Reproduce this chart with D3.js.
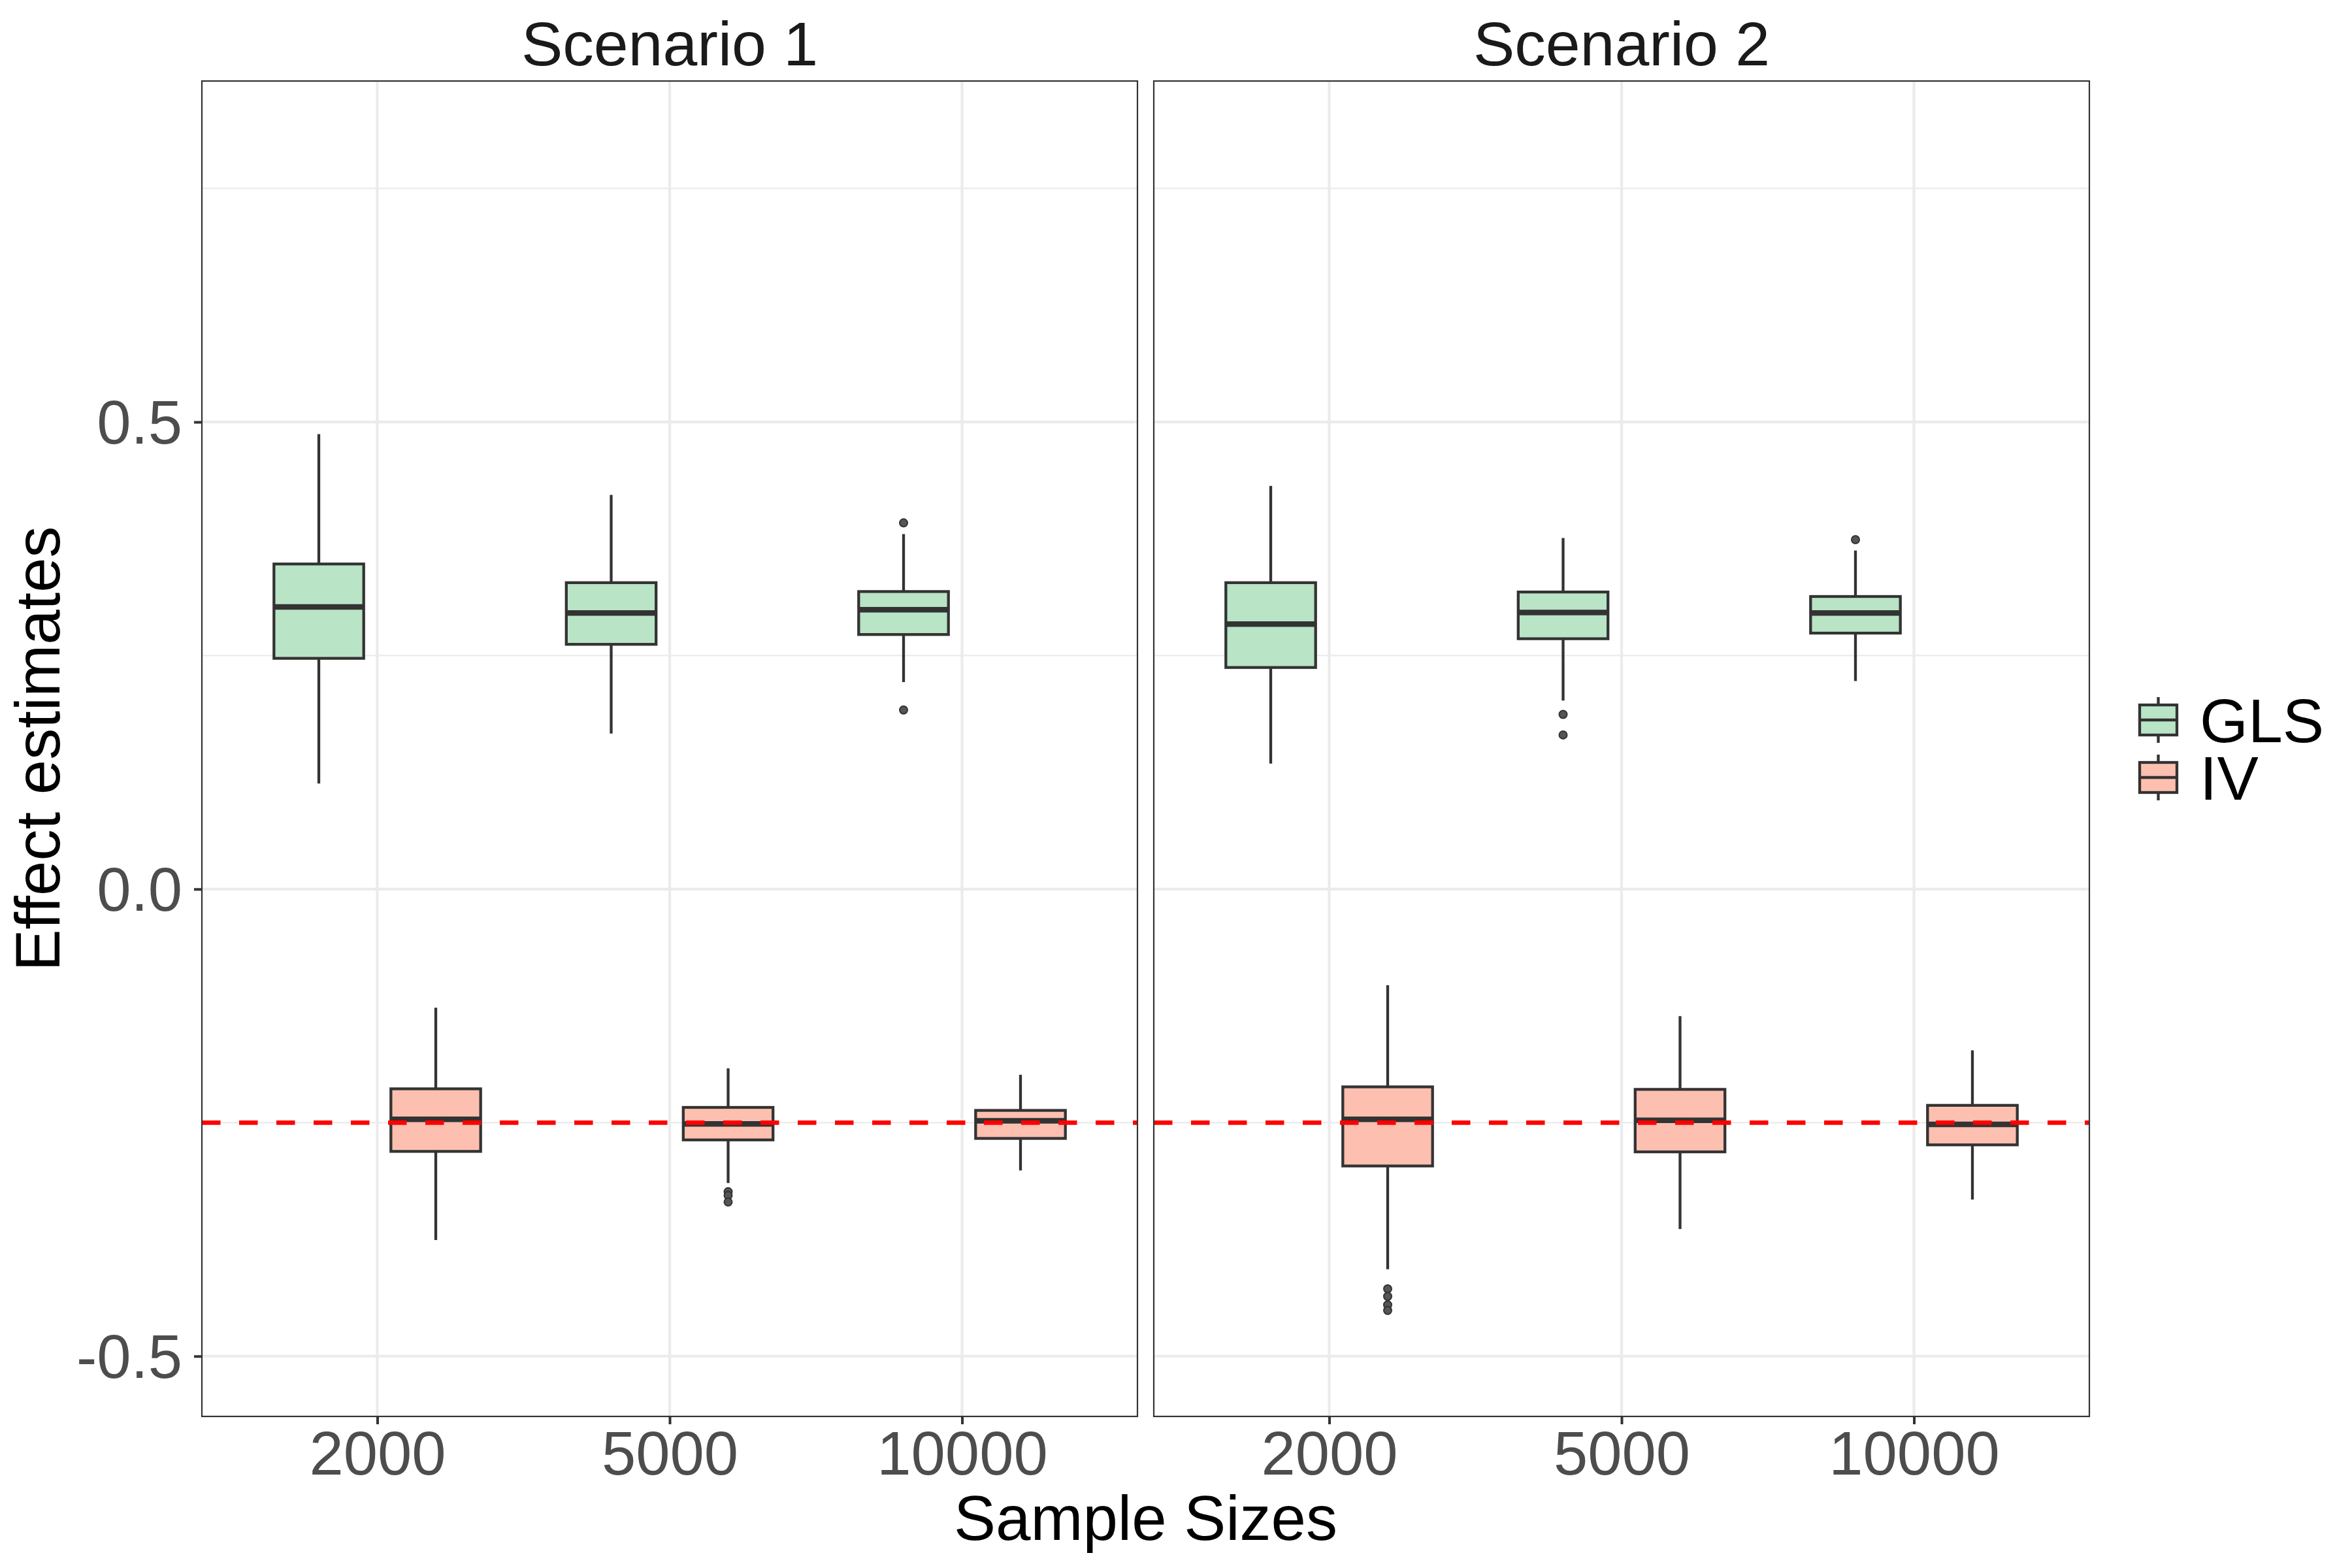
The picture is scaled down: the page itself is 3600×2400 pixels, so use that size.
<!DOCTYPE html>
<html>
<head>
<meta charset="utf-8">
<script src="https://cdn.jsdelivr.net/npm/d3@7"></script>
<style>
  html, body { margin: 0; padding: 0; background: #ffffff; }
  svg { display: block; }
</style>
</head>
<body>
<script>
// ---------------- DATA ----------------
const sampleSizes = ["2000", "5000", "10000"];
const scenarios = ["Scenario 1", "Scenario 2"];
const methods = ["GLS", "IV"];
const yTicks = [-0.5, 0.0, 0.5];
const yMinorTicks = [-0.25, 0.25, 0.75];
const trueEffect = -0.25;

// boxplot stats per sample size: [lower whisker, Q1, median, Q3, upper whisker]
const s1GLS = [
  [0.113, 0.247, 0.302, 0.348, 0.487],
  [0.1665, 0.262, 0.2955, 0.328, 0.422],
  [0.2216, 0.2725, 0.299, 0.3185, 0.380]
];
const s1GLSOut = [[], [], [0.392, 0.1917]];

const s1IV = [
  [-0.3757, -0.2808, -0.2465, -0.2138, -0.127],
  [-0.3146, -0.2685, -0.2513, -0.2337, -0.1919],
  [-0.3012, -0.2669, -0.248, -0.2369, -0.1988]
];
const s1IVOut = [[], [-0.324, -0.328, -0.335], []];

const s2GLS = [
  [0.1344, 0.2372, 0.2837, 0.328, 0.4315],
  [0.2018, 0.268, 0.296, 0.318, 0.3758],
  [0.2227, 0.274, 0.2955, 0.3132, 0.3624]
];
const s2GLSOut = [[], [0.187, 0.165], [0.374]];

const s2IV = [
  [-0.407, -0.2964, -0.2465, -0.2117, -0.1029],
  [-0.3639, -0.2813, -0.2476, -0.2144, -0.136],
  [-0.3323, -0.2738, -0.2519, -0.2315, -0.1726]
];
const s2IVOut = [[-0.428, -0.436, -0.445, -0.451], [], []];

const fillColors = { GLS: "#b9e4c6", IV: "#fcbfb0" };

// ---------------- BUILD ----------------
const panelData = [
  { GLS: s1GLS, GLSOut: s1GLSOut, IV: s1IV, IVOut: s1IVOut },
  { GLS: s2GLS, GLSOut: s2GLSOut, IV: s2IV, IVOut: s2IVOut }
];

const W = 3600, H = 2400;
const panelTop = 124, panelBottom = 2168;
const panelLefts = [309, 1766];
const panelWidth = 1432;
const font = "'Liberation Sans', Arial, Helvetica, sans-serif";

const svg = d3.select("body").append("svg")
  .attr("width", W).attr("height", H)
  .attr("viewBox", `0 0 ${W} ${H}`);
svg.append("rect").attr("width", W).attr("height", H).attr("fill", "#ffffff");

const y = d3.scaleLinear().domain([-0.5645, 0.865]).range([panelBottom, panelTop]);
const fmt = v => d3.format(".1f")(v).replace("\u2212", "-");

scenarios.forEach((scen, pi) => {
  const x0 = panelLefts[pi];
  const x = d3.scalePoint().domain(sampleSizes).range([x0, x0 + panelWidth]).padding(0.6);
  const step = x.step();
  const dodge = d3.scaleBand().domain(methods).range([-0.4 * step, 0.4 * step]).paddingInner(0).paddingOuter(0);
  const boxW = 0.307 * step;

  const g = svg.append("g");

  // grid
  g.selectAll("line.minor").data(yMinorTicks).join("line")
    .attr("x1", x0).attr("x2", x0 + panelWidth)
    .attr("y1", d => y(d)).attr("y2", d => y(d))
    .attr("stroke", "#ebebeb").attr("stroke-width", 2.2);
  g.selectAll("line.majorY").data(yTicks).join("line")
    .attr("x1", x0).attr("x2", x0 + panelWidth)
    .attr("y1", d => y(d)).attr("y2", d => y(d))
    .attr("stroke", "#ebebeb").attr("stroke-width", 4.2);
  g.selectAll("line.majorX").data(sampleSizes).join("line")
    .attr("x1", d => x(d)).attr("x2", d => x(d))
    .attr("y1", panelTop).attr("y2", panelBottom)
    .attr("stroke", "#ebebeb").attr("stroke-width", 4.2);

  // boxes
  methods.forEach(m => {
    const stats = panelData[pi][m];
    const outs = panelData[pi][m + "Out"];
    sampleSizes.forEach((ss, i) => {
      const [lo, q1, med, q3, hi] = stats[i];
      const cx = x(ss) + dodge(m) + dodge.bandwidth() / 2;
      const bg = g.append("g");
      bg.append("line")
        .attr("x1", cx).attr("x2", cx).attr("y1", y(hi)).attr("y2", y(q3))
        .attr("stroke", "#333333").attr("stroke-width", 4.3);
      bg.append("line")
        .attr("x1", cx).attr("x2", cx).attr("y1", y(q1)).attr("y2", y(lo))
        .attr("stroke", "#333333").attr("stroke-width", 4.3);
      bg.append("rect")
        .attr("x", cx - boxW / 2).attr("width", boxW)
        .attr("y", y(q3)).attr("height", y(q1) - y(q3))
        .attr("fill", fillColors[m]).attr("stroke", "#333333").attr("stroke-width", 4.3);
      bg.append("line")
        .attr("x1", cx - boxW / 2).attr("x2", cx + boxW / 2)
        .attr("y1", y(med)).attr("y2", y(med))
        .attr("stroke", "#333333").attr("stroke-width", 8.5);
      bg.selectAll("circle").data(outs[i]).join("circle")
        .attr("cx", cx).attr("cy", d => y(d)).attr("r", 6)
        .attr("fill", "#555555").attr("stroke", "#333333").attr("stroke-width", 2);
    });
  });

  // true effect dashed line
  g.append("line")
    .attr("x1", x0).attr("x2", x0 + panelWidth)
    .attr("y1", y(trueEffect)).attr("y2", y(trueEffect))
    .attr("stroke", "#ff0000").attr("stroke-width", 6.7)
    .attr("stroke-dasharray", "28.5,28.5");

  // panel border
  g.append("rect")
    .attr("x", x0).attr("y", panelTop)
    .attr("width", panelWidth).attr("height", panelBottom - panelTop)
    .attr("fill", "none").attr("stroke", "#333333").attr("stroke-width", 2.2);

  // strip title
  svg.append("text")
    .attr("x", x0 + panelWidth / 2).attr("y", 100)
    .attr("text-anchor", "middle")
    .attr("font-family", font).attr("font-size", 95)
    .attr("fill", "#1a1a1a").text(scen);

  // x axis
  const xAxis = svg.append("g")
    .attr("transform", `translate(0,${panelBottom})`)
    .call(d3.axisBottom(x).tickSize(12).tickPadding(0));
  xAxis.select(".domain").remove();
  xAxis.selectAll(".tick line").attr("stroke", "#333333").attr("stroke-width", 4);
  xAxis.selectAll(".tick text").attr("font-family", font).attr("font-size", 94)
    .attr("fill", "#4d4d4d").attr("dy", null).attr("y", 89);

  // y axis only on first panel
  if (pi === 0) {
    const yAxis = svg.append("g")
      .attr("transform", `translate(${x0},0)`)
      .call(d3.axisLeft(y).tickValues(yTicks).tickFormat(fmt).tickSize(12).tickPadding(18));
    yAxis.select(".domain").remove();
    yAxis.selectAll(".tick line").attr("stroke", "#333333").attr("stroke-width", 4);
    yAxis.selectAll(".tick text").attr("font-family", font).attr("font-size", 94)
      .attr("fill", "#4d4d4d").attr("dy", "0.35em");
  }
});

// axis titles
svg.append("text")
  .attr("x", (panelLefts[0] + panelLefts[1] + panelWidth) / 2).attr("y", 2357)
  .attr("text-anchor", "middle")
  .attr("font-family", font).attr("font-size", 96)
  .attr("fill", "#000000").text("Sample Sizes");

svg.append("text")
  .attr("transform", `translate(91,${(panelTop + panelBottom) / 2}) rotate(-90)`)
  .attr("text-anchor", "middle")
  .attr("font-family", font).attr("font-size", 96)
  .attr("fill", "#000000").text("Effect estimates");

// legend
const legendX = 3275, keyW = 57;
const legendCenters = [1102, 1190];
methods.forEach((m, i) => {
  const cy = legendCenters[i];
  const lg = svg.append("g");
  lg.append("line").attr("x1", legendX + keyW / 2).attr("x2", legendX + keyW / 2)
    .attr("y1", cy - 35).attr("y2", cy + 35)
    .attr("stroke", "#333333").attr("stroke-width", 4.3);
  lg.append("rect").attr("x", legendX).attr("y", cy - 23).attr("width", keyW).attr("height", 46)
    .attr("fill", fillColors[m]).attr("stroke", "#333333").attr("stroke-width", 4.3);
  lg.append("line").attr("x1", legendX).attr("x2", legendX + keyW)
    .attr("y1", cy).attr("y2", cy)
    .attr("stroke", "#333333").attr("stroke-width", 4.3);
  lg.append("text").attr("x", 3367).attr("y", cy + 34)
    .attr("font-family", font).attr("font-size", 95)
    .attr("fill", "#000000").text(m);
});
</script>
</body>
</html>
